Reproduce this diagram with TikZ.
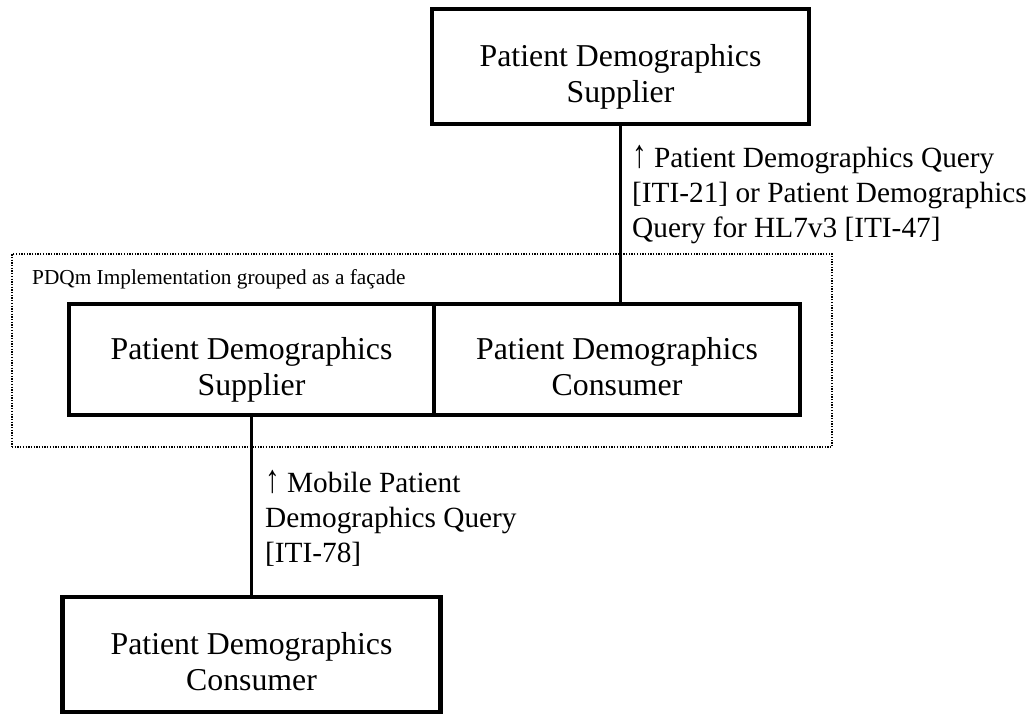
\documentclass[tikz,border=0pt]{standalone}
\usepackage{fontspec}
\setmainfont{Liberation Serif}
\newcommand{\uparr}{\scalebox{1}[1.35]{↑}}
\begin{document}
\begin{tikzpicture}[x=1pt,y=-1pt,
  actor/.style={draw, line width=4.2pt, fill=white, inner sep=0pt, align=center,
    font=\fontsize{31.8}{36}\selectfont, text height=72pt, text depth=0pt},
  conn/.style={line width=3.6pt},
  grp/.style={draw, line width=1.3pt, dash pattern=on 1.3pt off 1.4pt, inner sep=0pt},
  lbl/.style={align=left, inner sep=0pt, font=\fontsize{29.3}{35}\selectfont},
  glbl/.style={inner sep=0pt, font=\fontsize{21.3}{25}\selectfont}]
\useasboundingbox (0,0) rectangle (1033,717);
\node[grp, minimum width=820pt, minimum height=193pt] (grp) at (422,350.5) {};
\node[glbl, anchor=base west] (glabel) at (32,284) {PDQm Implementation grouped as a façade};
\node[actor, minimum width=377pt, minimum height=115pt] (top) at (620.5,66.5) {Patient Demographics\\Supplier};
\node[actor, minimum width=365pt, minimum height=111pt] (ml) at (251.5,359.5) {Patient Demographics\\Supplier};
\node[actor, minimum width=366pt, minimum height=111pt] (mr) at (617,359.5) {Patient Demographics\\Consumer};
\node[actor, minimum width=378pt, minimum height=115pt] (bot) at (251.5,654.5) {Patient Demographics\\Consumer};
\draw[conn] (top.south) -- (top.south |- mr.north);
\draw[conn] (ml.south) -- (bot.north);
\node[lbl, anchor=base west] (l1) at (632,237) {\uparr{} Patient Demographics Query\\{}[ITI-21] or Patient Demographics\\Query for HL7v3 [ITI-47]};
\node[lbl, anchor=base west] (l2) at (265,562) {\uparr{} Mobile Patient\\Demographics Query\\{}[ITI-78]};
\end{tikzpicture}
\end{document}
